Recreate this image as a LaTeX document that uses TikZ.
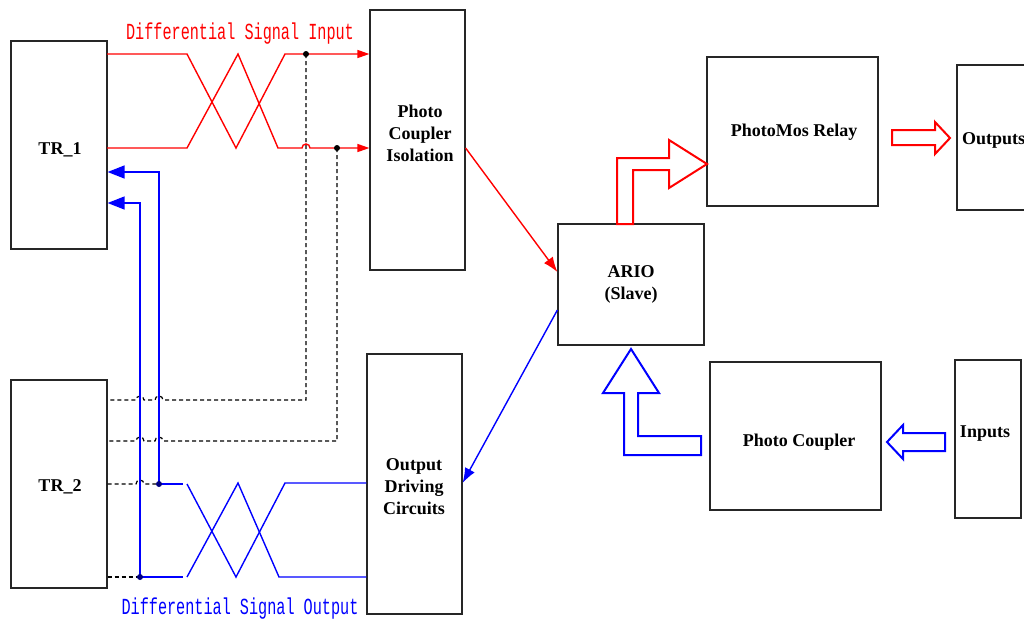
\documentclass[tikz,border=0pt]{standalone}
\usepackage{fontspec}
\setmainfont{Liberation Serif}
\newfontfamily\monofont[FakeStretch=0.66]{Liberation Mono}
\usetikzlibrary{arrows.meta}
\begin{document}
\begin{tikzpicture}[x=1pt,y=-1pt,
  box/.style={draw=black!85,line width=1.2pt,inner sep=0pt},
  lbl/.style={font=\bfseries\fontsize{18}{22}\selectfont,align=center,inner sep=0pt},
  mono/.style={font=\monofont\fontsize{23}{26}\selectfont,inner sep=0pt},
  sig/.style={line width=1.4pt},
  dsh/.style={line width=1.2pt,dash pattern=on 4pt off 3pt,black},
  hollow/.style={line width=2pt,fill=white,line join=miter},
  dotc/.style={circle,fill=#1,inner sep=0pt,minimum size=6pt},
  smalltip/.style={-{Triangle[length=12pt,width=8pt]}},
  bigtip/.style={-{Triangle[length=17pt,width=13pt]}},
  diagtip/.style={-{Latex[length=15pt,width=11pt]}}
]
\useasboundingbox (0,0) rectangle (1024,619);

% boxes
\node[box,minimum width=96,minimum height=208] (tr1) at (59,145) {};
\node[box,minimum width=96,minimum height=208] (tr2) at (59,484) {};
\node[box,minimum width=95,minimum height=260] (pci) at (417.5,140) {};
\node[box,minimum width=95,minimum height=260] (odc) at (414.5,484) {};
\node[box,minimum width=146,minimum height=121] (ario) at (631,284.5) {};
\node[box,minimum width=171,minimum height=149] (pmr) at (792.5,131.5) {};
\node[box,minimum width=90,minimum height=145] (outb) at (1002,137.5) {};
\node[box,minimum width=171,minimum height=148] (pc) at (795.5,436) {};
\node[box,minimum width=66,minimum height=158] (inb) at (988,439) {};

% box texts
\node[lbl] (tr1t) at (60,150) {TR\_1};
\node[lbl] (tr2t) at (60,487) {TR\_2};
\node[lbl] (pcit) at (420,133) {Photo\\Coupler\\Isolation};
\node[lbl] (odct) at (414,487) {Output\\Driving\\Circuits};
\node[lbl] (ariot) at (631,284) {ARIO\\(Slave)};
\node[lbl] (pmrt) at (794,132) {PhotoMos Relay};
\node[lbl,anchor=west] (outt) at (962,140) {Outputs};
\node[lbl] (pct) at (799,442) {Photo Coupler};
\node[lbl] (int) at (985,434) {Inputs};

% signal labels
\node[mono,text=red] (dsi) at (240,34) {Differential Signal Input};
\node[mono,text=blue] (dso) at (240,609) {Differential Signal Output};

% coordinates
\coordinate (jA) at (306,54);
\coordinate (jB) at (337,148);
\coordinate (jC) at (159,484);
\coordinate (jD) at (140,577);

% red differential input
\draw[red,sig,smalltip] (107,54) -- (187,54) -- (236,148) -- (285,54) -- (jA) -- (pci.west |- jA);
\draw[red,sig,smalltip] (107,148) -- (187,148) -- (238,54) -- (278,148) -- (302,148)
  arc[start angle=180,end angle=0,radius=4pt] -- (jB) -- (pci.west |- jB);

% dashed links to TR_2
\draw[dsh] (jA) -- (306,400) -- (163,400) arc[start angle=0,end angle=180,radius=4pt]
  -- (144,400) arc[start angle=0,end angle=180,radius=4pt] -- (tr2.east |- 0,400);
\draw[dsh] (jB) -- (337,441) -- (163,441) arc[start angle=0,end angle=180,radius=4pt]
  -- (144,441) arc[start angle=0,end angle=180,radius=4pt] -- (tr2.east |- 0,441);
\draw[dsh] (tr2.east |- jC) -- (136,484) arc[start angle=180,end angle=0,radius=4pt] -- (jC);
\draw[dsh] (tr2.east |- jD) -- (jD);

% blue feedback to TR_1
\draw[blue,sig,bigtip] (jC) -- (159,172) -- (tr1.east |- 0,172);
\draw[blue,sig,bigtip] (jD) -- (140,203) -- (tr1.east |- 0,203);

% blue differential output
\draw[blue,sig] (jC) -- (183,484);
\draw[blue,sig] (jD) -- (183,577);
\draw[blue,sig] (odc.west |- 0,483) -- (285,483) -- (236,577) -- (187,484);
\draw[blue,sig] (odc.west |- 0,577) -- (279,577) -- (238,483) -- (187,577);

% dots
\node[dotc=black] (dA) at (jA) {};
\node[dotc=black] (dB) at (jB) {};
\node[dotc=blue!50!black] (dC) at (jC) {};
\node[dotc=blue!50!black] (dD) at (jD) {};

% diagonal arrows
\draw[red,sig,diagtip] (pci.east |- 0,148) -- (ario.west |- 0,272);
\draw[blue,sig,diagtip] (ario.west |- 0,310) -- (odc.east |- 0,483);

% hollow arrows
\draw[red,hollow] (617,224) -- (617,158) -- (669,158) -- (669,140) -- (707,164)
  -- (669,188) -- (669,170) -- (633,170) -- (633,224) -- cycle;
\draw[red,hollow] (892,130) -- (935,130) -- (935,122) -- (950,138) -- (935,154)
  -- (935,145) -- (892,145) -- cycle;
\draw[blue,hollow] (631,349) -- (659,393) -- (638,393) -- (638,436) -- (701,436)
  -- (701,455) -- (624,455) -- (624,393) -- (603,393) -- cycle;
\draw[blue,hollow] (945,433) -- (903,433) -- (903,425) -- (887,442) -- (903,459)
  -- (903,451) -- (945,451) -- cycle;
\end{tikzpicture}
\end{document}
